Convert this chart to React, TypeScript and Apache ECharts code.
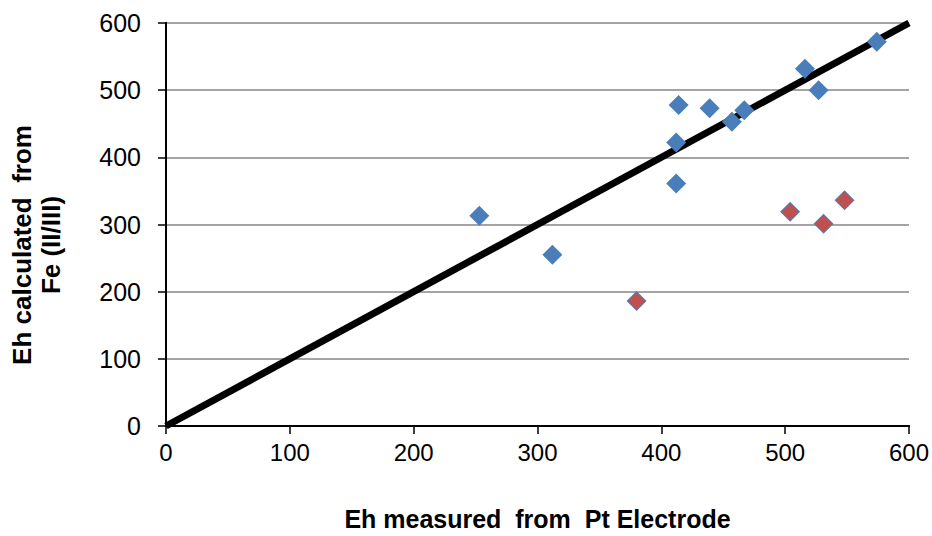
import React, { useEffect, useRef } from "react";
import * as echarts from "echarts";

const xTicks = [0, 100, 200, 300, 400, 500, 600];
const yTicks = [0, 100, 200, 300, 400, 500, 600];
const blueX = [253, 312, 412, 414, 412, 439, 457, 467, 516, 527, 574, 380, 504, 531, 548];
const blueY = [313, 255, 422, 478, 361, 473, 453, 470, 532, 500, 572, 186, 319, 301, 336];
const redX = [380, 504, 531, 548];
const redY = [186, 319, 301, 336];
const lineX = [0, 600];
const lineY = [0, 600];

export default function App() {
  const ref = useRef<HTMLDivElement>(null);
  useEffect(() => {
    const chart = echarts.init(ref.current!, null, { renderer: "svg" });
    const font = "'Liberation Sans', Arial, sans-serif";
    const frameAxis = {
      type: "value",
      min: 0,
      max: 600,
      interval: 100,
      axisLine: { show: true, lineStyle: { color: "#000", width: 2 } },
      axisTick: { show: false },
      axisLabel: { show: false },
      splitLine: { show: false },
    };
    chart.setOption({
      animation: false,
      textStyle: { fontFamily: font },
      grid: { left: 166, right: 22, top: 23, bottom: 107, containLabel: false },
      graphic: [
        {
          type: "text",
          x: 36,
          y: 245,
          rotation: Math.PI / 2,
          style: {
            text: "Eh calculated  from\nFe (II/III)",
            font: "bold 26px 'Liberation Sans', Arial, sans-serif",
            lineHeight: 29,
            fill: "#000",
            textAlign: "center",
            textVerticalAlign: "middle",
          },
        },
      ],
      xAxis: [
        {
          type: "value",
          min: xTicks[0],
          max: xTicks[xTicks.length - 1],
          interval: 100,
          name: "Eh measured  from  Pt Electrode",
          nameLocation: "middle",
          nameGap: 80,
          nameTextStyle: { fontFamily: font, fontWeight: "bold", fontSize: 25, color: "#000" },
          axisLine: { lineStyle: { color: "#000", width: 2 } },
          axisTick: { show: true, length: 8, lineStyle: { color: "#000", width: 1.5 } },
          axisLabel: { fontFamily: font, fontSize: 24, color: "#000", margin: 14 },
          splitLine: { show: false },
        },
        { ...frameAxis, position: "top" },
      ],
      yAxis: [
        {
          type: "value",
          min: yTicks[0],
          max: yTicks[yTicks.length - 1],
          interval: 100,
          axisLine: { show: true, lineStyle: { color: "#000", width: 2 } },
          axisTick: { show: true, length: 8, lineStyle: { color: "#000", width: 1.5 } },
          axisLabel: { fontFamily: font, fontSize: 25, color: "#000", margin: 25 },
          splitLine: { show: true, lineStyle: { color: "#868686", width: 1.5 } },
        },
        { ...frameAxis, position: "right" },
      ],
      series: [
        {
          type: "line",
          data: lineX.map((x, i) => [x, lineY[i]]),
          symbol: "none",
          lineStyle: { color: "#000", width: 7 },
          z: 2,
        },
        {
          type: "scatter",
          data: blueX.map((x, i) => [x, blueY[i]]),
          symbol: "diamond",
          symbolSize: 20,
          itemStyle: { color: "#4a7ebb", opacity: 1 },
          z: 3,
        },
        {
          type: "scatter",
          data: redX.map((x, i) => [x, redY[i]]),
          symbol: "diamond",
          symbolSize: 17,
          itemStyle: { color: "#c0504d", opacity: 1 },
          z: 4,
        },
      ],
    });
    return () => chart.dispose();
  }, []);
  return <div ref={ref} style={{ width: 932, height: 536, position: "absolute", left: 0, top: 0 }} />;
}
